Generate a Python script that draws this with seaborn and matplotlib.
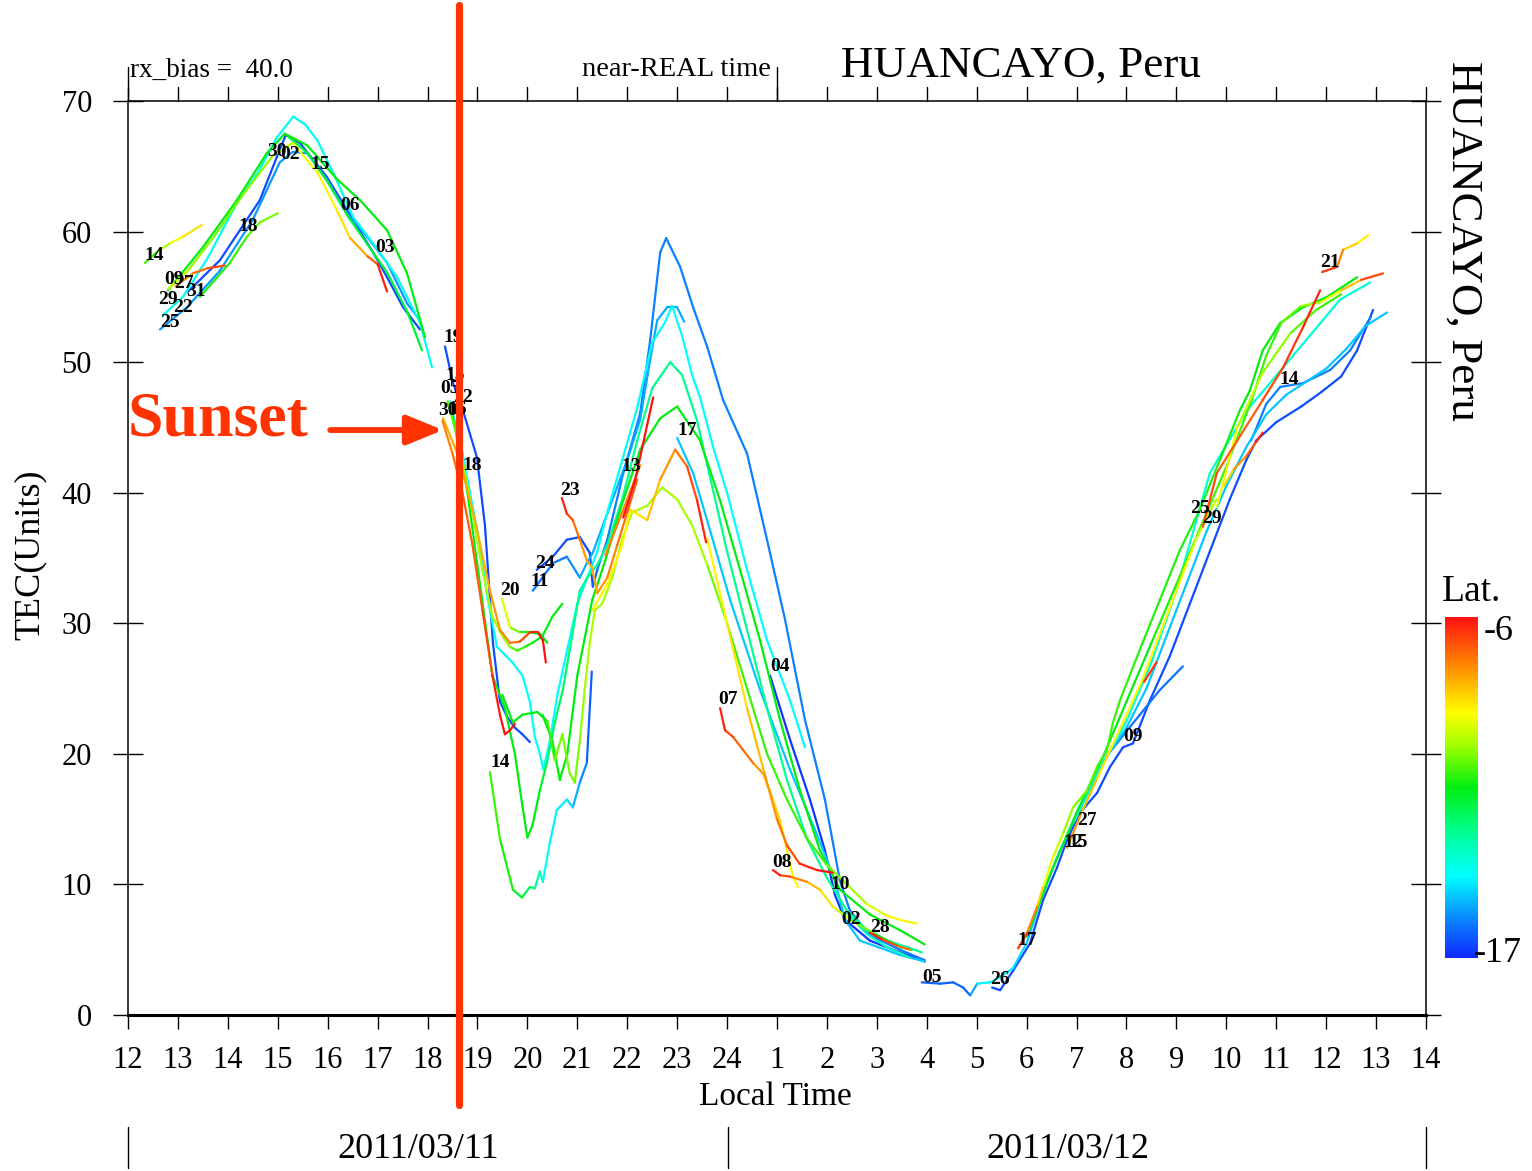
import numpy as np
import pandas as pd
import matplotlib
matplotlib.use("Agg")
import matplotlib.pyplot as plt
import seaborn as sns
from matplotlib.colors import LinearSegmentedColormap, Normalize
from matplotlib.cm import ScalarMappable
from matplotlib.lines import Line2D

# ---------------- data: satellite tracks (local time [h], TEC, latitude) ----------------
A14_T = [12.34, 12.6, 12.84, 13.1, 13.48]
A14_V = [57.6, 58.5, 59.1, 59.6, 60.5]
A14_L = [-11.5, -10.5, -9.5, -9.0, -8.5]

ACY_T = [12.7, 13.1, 13.6, 14.18, 14.6, 14.98, 15.31, 15.55, 15.79, 16.11, 16.51, 16.91, 17.39, 17.85, 18.09]
ACY_V = [53.6, 55.0, 58.0, 62.2, 64.5, 67.2, 68.8, 68.2, 67.0, 64.5, 61.1, 59.1, 56.5, 53.0, 49.6]
ACY_L = -14.2

AGR_T = [12.8, 13.5, 14.18, 14.78, 15.14, 15.59, 16.19, 16.65, 17.19, 17.59, 17.95]
AGR_V = [55.5, 58.8, 62.4, 66.0, 67.5, 66.6, 64.0, 62.4, 60.1, 56.8, 51.9]
AGR_L = -11.5

ABL_T = [13.2, 13.84, 14.64, 14.98, 15.16, 15.44, 15.98, 16.51, 16.91, 17.19, 17.51, 17.85]
ABL_V = [55.4, 57.8, 62.4, 65.7, 67.4, 66.8, 64.2, 60.9, 58.4, 56.5, 54.2, 52.5]
ABL_L = -16.5

A25_T = [12.64, 13.18, 13.84, 14.5, 15.04, 15.3, 15.59, 15.98, 16.39, 16.79, 17.19, 17.59, 17.85]
A25_V = [52.5, 54.2, 57.0, 60.9, 65.3, 66.1, 66.0, 64.0, 61.4, 59.6, 57.6, 54.5, 53.2]
A25_L = -15.5

A18_T = [13.44, 14.04, 14.38, 14.64, 15.0]
A18_V = [55.0, 57.6, 59.6, 60.7, 61.4]
A18_L = [-11.5, -11, -11, -10.5, -10.5]

AOR_T = [12.95, 13.3, 13.6, 13.94]
AOR_V = [55.8, 56.8, 57.2, 57.4]
AOR_L = [-8, -7.5, -7, -6.5]

AYE_T = [12.8, 13.2, 13.7, 14.3, 14.9, 15.3, 15.8, 16.2, 16.45, 16.8, 17.0, 17.19]
AYE_V = [55.6, 57.0, 59.5, 62.8, 65.8, 66.8, 64.5, 61.5, 59.5, 58.1, 57.5, 55.4]
AYE_L = [-9.5, -10, -10.5, -10.5, -10, -9.5, -9, -9, -8.5, -7.5, -6.5, -6]

AG2_T = [15.2, 15.6, 16.0, 16.4, 16.8, 17.2, 17.6, 17.89]
AG2_V = [67.3, 66.0, 63.8, 61.2, 59.0, 56.8, 53.8, 50.9]
AG2_L = -12.0

S19_T = [18.35, 18.51, 18.71, 18.99, 19.15, 19.31, 19.45, 19.6, 19.75, 19.9, 20.05]
S19_V = [51.2, 48.4, 46.3, 42.7, 37.5, 28.5, 24.0, 22.8, 22.0, 21.5, 20.9]
S19_L = -16.5

SRD_T = [18.3, 18.5, 18.7, 18.9, 19.1, 19.3, 19.45, 19.55, 19.65, 19.75]
SRD_V = [45.5, 43.0, 40.0, 36.0, 31.0, 26.0, 23.0, 21.5, 21.8, 22.3]
SRD_L = [-7.5, -7.5, -7, -7, -7, -6.5, -6, -6, -6, -6]

SOR_T = [18.31, 18.65, 18.95, 19.25, 19.45, 19.65, 19.85, 20.05, 20.21, 20.31, 20.37]
SOR_V = [45.7, 42.5, 37.9, 32.5, 29.5, 28.5, 28.6, 29.3, 29.3, 28.7, 27.0]
SOR_L = [-8, -8, -8, -8, -7.5, -7.5, -7, -6.5, -6, -6, -6]

S20_T = [19.49, 19.65, 19.85, 20.05, 20.25, 20.4]
S20_V = [31.9, 29.7, 29.3, 29.3, 29.2, 28.5]
S20_L = [-9, -10, -11, -11.5, -11.5, -11.5]

SU_T = [18.4, 18.65, 18.9, 19.1, 19.3, 19.5, 19.65, 19.8, 19.95, 20.1, 20.3, 20.5, 20.7]
SU_V = [47.0, 43.5, 38.5, 34.0, 30.5, 29.0, 28.2, 27.9, 28.2, 28.5, 29.0, 30.5, 31.5]
SU_L = [-11, -10.5, -10, -10, -10, -10, -10.5, -11, -11, -11.5, -11.5, -11.5, -11.5]

SCY_T = [18.45, 18.7, 19.0, 19.2, 19.39, 19.7, 19.9, 20.05, 20.15, 20.25, 20.32, 20.45, 20.6, 20.8, 21.0, 21.2,
         21.4, 21.6, 21.9, 22.2, 22.5, 22.75, 22.9, 23.1, 23.3, 23.46, 23.72, 24.0, 24.4, 24.8, 25.26, 25.56]
SCY_V = [47.0, 43.0, 37.0, 32.0, 28.2, 27.0, 26.0, 24.0, 21.3, 20.0, 18.8, 21.0, 24.5, 28.0, 31.5, 33.5,
         35.5, 38.5, 42.5, 46.5, 51.5, 53.0, 54.3, 52.0, 49.0, 47.3, 43.5, 40.0, 34.1, 28.7, 24.1, 20.5]
SCY_L = -14.3

S14_T = [19.25, 19.45, 19.71, 19.89, 20.05, 20.15, 20.25, 20.31, 20.45, 20.59, 20.79, 20.91, 21.05, 21.19, 21.29]
S14_V = [18.6, 13.5, 9.6, 9.0, 9.8, 9.7, 11.0, 10.2, 13.2, 15.7, 16.5, 15.9, 17.8, 19.3, 26.3]
S14_L = [-11, -11, -11.5, -12, -12.5, -13, -13.5, -14, -14.5, -14.5, -14.5, -15, -15.5, -16, -16.5]

G2_T = [18.5, 18.8, 19.05, 19.3, 19.55, 19.75, 19.9, 20.0, 20.1, 20.25, 20.39, 20.55, 20.71, 20.85, 21.05, 21.2,
        21.4, 21.6, 21.9, 22.2, 22.5, 22.86, 23.1, 23.4, 23.7, 24.0, 24.4, 24.8, 25.2, 25.6, 26.0, 26.4, 26.8,
        27.2, 27.6, 27.9]
G2_V = [46.0, 40.0, 33.0, 26.0, 23.5, 20.0, 16.0, 13.6, 14.5, 17.2, 19.3, 22.4, 24.9, 28.0, 32.5, 33.5,
        34.5, 36.0, 39.5, 44.0, 48.0, 50.0, 49.0, 45.5, 40.5, 35.5, 29.5, 23.5, 18.0, 13.5, 10.5, 8.0, 6.5,
        5.7, 5.2, 4.8]
G2_L = [-11.5] * 10 + [-12.5] * 4 + [-13.0] * 22

Y3_T = [19.5, 19.71, 19.9, 20.2, 20.4, 20.55, 20.7, 20.85, 20.95, 21.05, 21.15, 21.25, 21.35, 21.5, 21.7, 21.9,
        22.1, 22.4, 22.7, 23.0, 23.3, 23.6, 24.0, 24.4, 24.8, 25.2, 25.6, 26.0, 26.4, 26.8, 27.2, 27.55, 27.8]
Y3_V = [24.5, 22.4, 23.0, 23.2, 22.5, 19.5, 21.5, 18.5, 17.8, 21.0, 25.0, 28.5, 31.0, 31.5, 33.5, 36.5,
        38.5, 39.0, 40.4, 39.5, 37.5, 34.5, 30.0, 25.0, 20.0, 16.5, 13.5, 11.5, 10.0, 8.5, 7.6, 7.2, 7.0]
Y3_L = [-11.5] * 5 + [-10.5] * 5 + [-10.0] * 12 + [-11.0] * 6 + [-10.0] * 2 + [-9.0] * 3

N24_T = [20.19, 20.51, 20.79, 21.05, 21.25, 21.31, 21.4, 21.6, 21.92, 22.26, 22.46, 22.66, 22.78, 23.06, 23.32,
         23.6, 23.92, 24.4, 24.8, 25.16, 25.56, 25.96, 26.26, 26.46, 26.86, 27.46, 27.96]
N24_V = [34.1, 35.1, 36.4, 36.6, 35.4, 32.8, 34.1, 36.4, 41.5, 46.1, 51.7, 58.4, 59.5, 57.3, 54.2,
         51.2, 47.1, 43.0, 36.4, 30.3, 22.6, 16.5, 10.3, 8.0, 6.1, 5.0, 4.2]
N24_L = [-16.5] * 6 + [-15.8] * 21

N11_T = [20.11, 20.51, 20.79, 21.05, 21.19, 21.31, 21.6, 22.0, 22.26, 22.46, 22.6, 22.8, 23.0, 23.14]
N11_V = [32.5, 34.6, 35.1, 33.5, 34.6, 35.4, 38.4, 42.5, 45.6, 50.2, 53.2, 54.2, 54.2, 53.1]
N11_L = [-16.0] * 3 + [-15.3] * 11

N23_T = [20.69, 20.79, 20.91, 21.05, 21.19, 21.29, 21.4, 21.6, 21.8, 22.0, 22.2]
N23_V = [39.6, 38.4, 37.9, 36.4, 34.8, 34.3, 32.3, 33.5, 36.0, 38.5, 41.0]
N23_L = [-6, -6.5, -7, -7.5, -8, -8, -8, -7.5, -7.5, -7, -7]

N13_T = [21.92, 22.16, 22.52]
N13_V = [38.1, 41.0, 47.3]
N13_L = -6.0

N13B_T = [21.56, 21.9, 22.26]
N13B_V = [35.2, 38.5, 42.1]
N13B_L = -7.5

P5_T = [21.3, 21.6, 21.9, 22.06, 22.4, 22.66, 22.96, 23.2, 23.4, 23.58]
P5_V = [31.0, 33.0, 36.0, 38.7, 37.9, 41.0, 43.3, 42.0, 39.4, 36.2]
P5_L = [-9, -9, -9, -9, -8.5, -8, -7.5, -7, -6.5, -6]

P4_T = [20.3, 20.5, 20.65, 20.8, 20.9, 21.0, 21.3, 21.56, 21.86, 22.26, 22.66, 23.0, 23.46, 23.86, 24.26,
        24.66, 25.06, 25.46, 25.86, 26.26, 26.86, 27.46, 27.96]
P4_V = [23.0, 21.0, 18.0, 20.0, 23.0, 26.0, 31.8, 34.8, 38.7, 43.3, 45.7, 46.6, 44.0, 39.4, 34.1,
        28.7, 22.6, 17.2, 12.6, 9.6, 7.7, 6.5, 5.4]
P4_L = -11.5

N17_T = [23.0, 23.32, 23.6, 24.06, 24.66, 25.26, 25.76, 26.16, 26.36, 26.66, 27.46, 27.96]
N17_V = [44.2, 41.5, 37.9, 31.8, 24.9, 18.8, 14.2, 10.3, 7.3, 5.7, 4.6, 4.1]
N17_L = -15.0

N04_T = [24.86, 25.26, 25.66, 25.96, 26.16, 26.36, 26.86, 27.46, 27.96]
N04_V = [26.0, 21.1, 16.5, 12.6, 9.2, 7.3, 5.7, 4.8, 4.1]
N04_L = -16.8

N07_T = [23.86, 23.96, 24.12, 24.32, 24.52, 24.72, 24.9, 25.06, 25.2, 25.32, 25.42]
N07_V = [23.5, 21.8, 21.3, 20.3, 19.3, 18.5, 16.7, 14.9, 12.6, 10.6, 9.8]
N07_L = [-6, -6.5, -7, -7, -7.5, -8, -8.5, -8.5, -9, -9, -9]

N08_T = [24.92, 25.06, 25.26, 25.6, 25.86, 26.12, 26.46, 26.92, 27.46, 27.7]
N08_V = [11.1, 10.7, 10.6, 10.2, 9.6, 8.3, 7.3, 6.3, 5.2, 5.0]
N08_L = [-6, -6.5, -7, -8, -8.5, -9, -10, -11, -12, -12.5]

N10_T = [23.6, 24.0, 24.4, 24.75, 25.0, 25.2, 25.45, 25.8, 26.12]
N10_V = [36.5, 30.0, 23.5, 18.5, 15.0, 13.0, 11.6, 11.1, 10.9]
N10_L = [-9, -9, -8.5, -8, -7.5, -7, -6.5, -6, -6]

N28_T = [26.86, 27.1, 27.4, 27.66]
N28_V = [6.3, 5.8, 5.3, 5.0]
N28_L = [-6, -6.5, -7, -7.5]

N02_T = [26.4, 26.8, 27.2, 27.66]
N02_V = [7.8, 6.2, 5.2, 4.4]
N02_L = -13.5

M05_T = [27.9, 28.27, 28.53, 28.73, 28.87, 29.01, 29.27, 29.47, 29.73, 30.0, 30.3, 30.6, 30.9, 31.2, 31.6,
         32.0, 32.4, 32.8, 33.2, 33.6, 34.0, 34.4, 34.8, 35.2, 35.6, 36.0, 36.4, 36.8, 37.22]
M05_V = [2.5, 2.4, 2.5, 2.1, 1.5, 2.4, 2.5, 2.9, 3.6, 5.5, 9.0, 12.0, 14.5, 16.8, 19.8,
         22.0, 25.0, 29.0, 33.0, 37.0, 40.5, 43.5, 46.0, 47.5, 48.5, 49.5, 51.0, 52.8, 53.8]
M05_L = [-16.2] * 5 + [-14.5] * 4 + [-15.0] * 20

M26_T = [29.31, 29.47, 29.73, 30.07, 30.33, 30.61, 30.81, 31.07, 31.41, 31.67, 31.93, 32.13, 32.47, 32.87,
         33.27, 33.67, 34.07, 34.4, 34.6, 35.0, 35.5, 35.9, 36.3, 36.62, 36.94]
M26_V = [2.1, 1.9, 3.4, 5.5, 8.8, 11.3, 13.4, 15.5, 17.0, 19.0, 20.5, 20.8, 24.1, 27.5,
         31.5, 35.5, 39.5, 42.5, 44.0, 45.4, 46.6, 47.7, 48.9, 50.9, 54.0]
M26_L = -16.5

M17_T = [29.83, 30.01, 30.21, 30.33, 30.53, 30.73, 30.93, 31.21, 31.41, 31.61, 31.73, 31.87, 32.27, 32.67,
         33.07, 33.47, 33.87, 34.27, 34.47, 34.73, 35.08, 35.54, 36.02, 36.62]
M17_V = [5.1, 6.3, 8.3, 9.8, 12.1, 13.9, 15.9, 17.2, 19.0, 20.3, 22.4, 24.1, 28.0, 31.8,
         35.6, 38.7, 42.5, 46.3, 47.8, 50.9, 53.0, 54.2, 55.0, 56.5]
M17_L = [-6, -7, -8, -9, -9.5, -10, -10.5, -10.5, -11, -11, -11, -11] + [-11.2] * 5 + [-11.5] * 7

M25_T = [33.53, 33.81, 34.22, 34.73, 35.14, 35.54, 35.88]
M25_V = [37.4, 41.5, 44.0, 47.1, 49.6, 52.7, 55.5]
M25_L = [-6.5, -7, -7, -7, -6.5, -6.5, -6]

M29_T = [33.81, 34.22, 34.73, 35.28, 35.8, 36.3]
M29_V = [38.9, 45.0, 49.2, 52.2, 54.0, 55.2]
M29_L = [-9, -9.5, -10, -10.5, -11, -11]

MSH_T = [33.95, 34.15, 34.4, 34.6, 34.73]
MSH_V = [40.5, 41.8, 42.8, 43.9, 44.6]
MSH_L = [-9, -8, -7.5, -6.5, -6]

M21_T = [35.92, 36.22, 36.34, 36.62, 36.84]
M21_V = [56.9, 57.3, 58.6, 59.1, 59.7]
M21_L = [-6, -7, -8, -9, -9]

MTP_T = [30.0, 30.5, 31.0, 31.5, 32.0, 32.5, 33.0, 33.5, 34.0, 34.5, 34.8, 35.1, 35.5, 35.9, 36.3, 36.7, 37.14]
MTP_V = [6.0, 11.0, 15.5, 19.5, 24.0, 28.5, 33.0, 37.5, 42.0, 47.0, 50.5, 53.0, 54.3, 54.6, 55.5, 56.3, 56.8]
MTP_L = [-11.5] * 6 + [-11, -11, -11, -11, -11, -11, -10.5, -9.5, -9, -7.5, -6]

MCY_T = [30.95, 31.5, 32.0, 32.5, 33.0, 33.67, 34.41, 35.14, 35.82, 36.28, 36.88]
MCY_V = [14.8, 19.0, 22.5, 27.0, 32.5, 41.5, 46.3, 49.6, 52.7, 54.8, 56.1]
MCY_L = -13.8

M09_T = [31.6, 31.93, 32.27, 32.67, 33.13]
M09_V = [19.8, 21.4, 23.0, 24.9, 26.7]
M09_L = -16.0

MRD_T = [32.35, 32.6]
MRD_V = [25.5, 27.0]
MRD_L = [-7, -6]

M12_T = [30.81, 31.1, 31.4, 31.7, 32.0, 32.3, 32.6, 33.0, 33.4, 33.8]
M12_V = [12.8, 15.5, 18.0, 20.5, 23.0, 25.5, 28.5, 32.5, 36.5, 39.5]
M12_L = [-7.5, -8, -8.5, -9, -9, -9, -9, -9, -9.5, -10]

M14_T = [34.5, 34.8, 35.08, 35.54, 36.08, 36.48, 36.9]
M14_V = [44.0, 46.8, 48.1, 48.4, 49.4, 50.9, 53.5]
M14_L = -15.8

# PRN labels (text, local time, TEC)
PRN_TEXT = ["14", "09", "27", "31", "29", "22", "25", "18", "30", "02", "15", "06", "03",
            "19", "15", "05", "22", "30", "16", "18", "20", "24", "11", "23", "13", "17", "14",
            "04", "07", "08", "10", "02", "28", "05", "26", "17", "27", "12", "15", "09",
            "25", "29", "14", "21"]
PRN_X = [12.52, 12.92, 13.12, 13.36, 12.8, 13.1, 12.84, 14.40, 14.98, 15.25, 15.85, 16.45, 17.15,
         18.51, 18.55, 18.45, 18.72, 18.41, 18.6, 18.89, 19.65, 20.35, 20.25, 20.85, 22.08, 23.2, 19.45,
         25.06, 24.02, 25.1, 26.26, 26.48, 27.06, 28.11, 29.47, 30.01, 31.2, 30.93, 31.03, 32.13,
         33.47, 33.71, 35.26, 36.08]
PRN_Y = [58.2, 56.3, 56.0, 55.4, 54.8, 54.2, 53.0, 60.4, 66.1, 65.9, 65.1, 62.0, 58.8,
         51.9, 49.0, 48.0, 47.3, 46.3, 46.4, 42.1, 32.5, 34.6, 33.2, 40.2, 42.0, 44.8, 19.3,
         26.7, 24.2, 11.7, 10.0, 7.3, 6.7, 2.9, 2.7, 5.7, 14.9, 13.2, 13.2, 21.3,
         38.8, 38.0, 48.7, 57.6]

HOURS = list(range(12, 39))
HOUR_LABELS = [str(h if h <= 24 else h - 24) for h in HOURS]
LONG_TICKS_BOTTOM = [12, 25, 38]
LONG_TICKS_TOP = [12, 25]
TEC_TICKS = [0, 10, 20, 30, 40, 50, 60, 70]
SUNSET_TIME = 18.63
LAT_MIN, LAT_MAX = -17, -6

TRACKS = [
    (A14_T, A14_V, A14_L), (ACY_T, ACY_V, ACY_L), (AGR_T, AGR_V, AGR_L), (ABL_T, ABL_V, ABL_L),
    (A25_T, A25_V, A25_L), (A18_T, A18_V, A18_L), (AOR_T, AOR_V, AOR_L), (AYE_T, AYE_V, AYE_L),
    (AG2_T, AG2_V, AG2_L), (S19_T, S19_V, S19_L), (SRD_T, SRD_V, SRD_L), (SOR_T, SOR_V, SOR_L),
    (S20_T, S20_V, S20_L), (SU_T, SU_V, SU_L), (SCY_T, SCY_V, SCY_L), (S14_T, S14_V, S14_L),
    (G2_T, G2_V, G2_L), (Y3_T, Y3_V, Y3_L), (N24_T, N24_V, N24_L), (N11_T, N11_V, N11_L),
    (N23_T, N23_V, N23_L), (N13_T, N13_V, N13_L), (N13B_T, N13B_V, N13B_L), (P5_T, P5_V, P5_L),
    (P4_T, P4_V, P4_L), (N17_T, N17_V, N17_L), (N04_T, N04_V, N04_L), (N07_T, N07_V, N07_L),
    (N08_T, N08_V, N08_L), (N10_T, N10_V, N10_L), (N28_T, N28_V, N28_L), (N02_T, N02_V, N02_L),
    (M05_T, M05_V, M05_L), (M26_T, M26_V, M26_L), (M17_T, M17_V, M17_L), (M25_T, M25_V, M25_L),
    (M29_T, M29_V, M29_L), (MSH_T, MSH_V, MSH_L), (M21_T, M21_V, M21_L), (MTP_T, MTP_V, MTP_L),
    (MCY_T, MCY_V, MCY_L), (M09_T, M09_V, M09_L), (MRD_T, MRD_V, MRD_L), (M12_T, M12_V, M12_L),
    (M14_T, M14_V, M14_L),
]

# ---------------- build segment table (one unit per segment, coloured by latitude) ----------------
rows = []
seg = 0
for T, V, L in TRACKS:
    n = len(T)
    lats = list(L) if isinstance(L, list) else [L] * n
    if len(lats) != n:
        lats = (lats + [lats[-1]] * n)[:n]
    for i in range(n - 1):
        lat = 0.5 * (lats[i] + lats[i + 1])
        rows.append((seg, T[i], V[i], lat))
        rows.append((seg, T[i + 1], V[i + 1], lat))
        seg += 1
df = pd.DataFrame(rows, columns=["seg", "t", "tec", "lat"])

# ---------------- style ----------------
sns.set_theme(style="white")
plt.rcParams["font.family"] = ["Liberation Serif", "DejaVu Serif"]
plt.rcParams["text.color"] = "black"
plt.rcParams["axes.labelcolor"] = "black"
plt.rcParams["axes.edgecolor"] = "black"
plt.rcParams["xtick.color"] = "black"
plt.rcParams["ytick.color"] = "black"

CMAP = LinearSegmentedColormap.from_list("lat", [
    (0.00, "#1028ff"), (0.12, "#0a8cff"), (0.24, "#00ffff"), (0.36, "#00ff99"),
    (0.50, "#00ee10"), (0.62, "#99ff00"), (0.72, "#ffff00"), (0.84, "#ff9900"), (1.00, "#ff1010")])
NORM = Normalize(vmin=LAT_MIN, vmax=LAT_MAX)

W, H = 1532, 1171
fig = plt.figure(figsize=(W / 100, H / 100), dpi=100)
ax = fig.add_axes([128 / W, 1 - 1015 / H, (1426 - 128) / W, (1015 - 101) / H])

sns.lineplot(data=df, x="t", y="tec", hue="lat", units="seg", estimator=None,
             palette=CMAP, hue_norm=NORM, legend=False, sort=False,
             linewidth=1.6, solid_capstyle="round", ax=ax)

for txt, x, y in zip(PRN_TEXT, PRN_X, PRN_Y):
    ax.text(x, y, txt, fontsize=14, fontweight="bold", ha="center", va="center",
            color="black", zorder=4)

ax.set_xlim(12, 38)
ax.set_ylim(0, 70)
ax.set_xticks(HOURS)
ax.set_xticklabels(HOUR_LABELS, fontsize=22)
ax.set_yticks(TEC_TICKS)
ax.set_yticklabels([str(v) for v in TEC_TICKS], fontsize=22)
ax.set_xlabel("")
ax.set_ylabel("")
ax.set_xticks(LONG_TICKS_BOTTOM, minor=True)
ax.tick_params(axis="x", which="major", direction="out", length=10, width=1.0,
               bottom=True, top=False, labelbottom=True, labeltop=False, pad=12)
ax.tick_params(axis="x", which="minor", direction="out", length=27, width=1.0,
               bottom=True, top=False)
ax.tick_params(axis="y", which="major", direction="inout", length=22, width=1.0,
               left=True, right=True, labelleft=True, labelright=False, pad=15)

# top ticks (pointing up, longer at 12 h and 1 h)
xtrans = ax.get_xaxis_transform()
for h in HOURS:
    ax.plot([h, h], [1.0, 1.0 + 14 / 914], transform=xtrans, clip_on=False, color="black", lw=1.0)
for h in LONG_TICKS_TOP:
    ax.plot([h, h], [1.0, 1.0 + 34 / 914], transform=xtrans, clip_on=False, color="black", lw=1.0)

for s in ["left", "right", "top"]:
    ax.spines[s].set_linewidth(1.1)
    ax.spines[s].set_color("black")
ax.spines["bottom"].set_linewidth(2.2)
ax.spines["bottom"].set_color("black")
ax.grid(False)

# sunset marker
ax.axvline(SUNSET_TIME, ymin=-0.0985, ymax=1.105, clip_on=False, color="#ff3300", lw=5.2, zorder=6)
ax.annotate("", xy=(18.31, 44.8), xytext=(16.05, 44.8),
            arrowprops=dict(arrowstyle="-|>,head_length=1.1,head_width=0.45", lw=4.2,
                            color="#ff3300", mutation_scale=20, shrinkA=0, shrinkB=0), zorder=6)
ax.text(12.0, 45.5, "Sunset", fontsize=46, fontweight="bold", color="#ff3300",
        ha="left", va="center", zorder=6)

# header texts
fig.text(130 / W, 1 - 70 / H, "rx_bias =  40.0", fontsize=19.5, ha="left", va="center")
fig.text(582 / W, 1 - 70 / H, "near-REAL time", fontsize=20.5, ha="left", va="center")
fig.text(1021 / W, 1 - 66 / H, "HUANCAYO, Peru", fontsize=32.5, ha="center", va="center")
fig.text(1463 / W, 1 - 241 / H, "HUANCAYO, Peru", fontsize=32.5, ha="center", va="center", rotation=-90)

# axis titles
fig.text(30 / W, 1 - 555 / H, "TEC(Units)", fontsize=26, rotation=90, ha="center", va="center")
fig.text(775 / W, 1 - 1097 / H, "Local Time", fontsize=24, ha="center", va="center")

# date row
fig.text(418 / W, 1 - 1150 / H, "2011/03/11", fontsize=26, ha="center", va="center")
fig.text(1068 / W, 1 - 1150 / H, "2011/03/12", fontsize=26, ha="center", va="center")
for px in [128, 728, 1426]:
    fig.add_artist(Line2D([px / W, px / W], [1 - 1127 / H, 1 - 1168 / H],
                          transform=fig.transFigure, color="black", lw=1.0))

# colour bar
cax = fig.add_axes([1445 / W, 1 - 958 / H, 33 / W, (958 - 617) / H])
cb = fig.colorbar(ScalarMappable(norm=NORM, cmap=CMAP), cax=cax)
cb.set_ticks([])
cb.outline.set_visible(False)
fig.text(1472 / W, 1 - 592 / H, "Lat.", fontsize=27, ha="center", va="center")
fig.text(1499 / W, 1 - 632 / H, "-6", fontsize=26, ha="center", va="center")
fig.text(1498 / W, 1 - 953 / H, "-17", fontsize=26, ha="center", va="center")

fig.savefig("out.png", dpi=100)
